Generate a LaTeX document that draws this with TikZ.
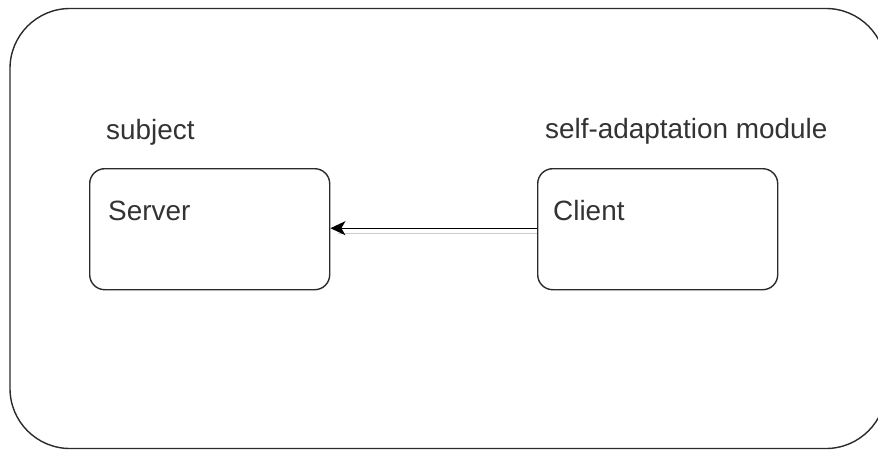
\documentclass[tikz,border=0pt]{standalone}
\usepackage{fontspec}
\setmainfont{Liberation Sans}
\usetikzlibrary{arrows.meta}
\definecolor{ink}{HTML}{2B2B2B}
\definecolor{txt}{HTML}{333333}
\begin{document}
\begin{tikzpicture}[x=1pt,y=-1pt,
  frame/.style={draw=ink,line width=1.4pt,rounded corners=60pt},
  unit/.style={draw=ink,line width=1.4pt,rounded corners=15pt,minimum width=240pt,minimum height=121pt,inner sep=0pt,anchor=north west},
  lbl/.style={text=txt,font=\fontsize{27.9}{33}\selectfont,inner sep=0pt,anchor=base west},
  link/.style={draw=black,line width=1.4pt,-{Stealth[length=15pt,width=14pt,inset=4pt]}},
  linkshade/.style={draw=black!20,line width=1.4pt}]
\useasboundingbox (0,0) rectangle (878,450);
\begin{scope}
\clip (0,0) rectangle (878,450);
\draw[frame] (10,8.5) rectangle (886,448.5);
\end{scope}
\node[unit] (server) at (89,168) {};
\node[unit] (client) at (537,168) {};
\node[lbl] (subj) at (106,139) {subject};
\node[lbl] (mod) at (545,138) {self-adaptation module};
\node[lbl] (srvtxt) at (108,220) {Server};
\node[lbl] (clitxt) at (553,220) {Client};
\draw[linkshade] ([shift={(8pt,-4pt)}]server.east) -- ([yshift=-4pt]client.west);
\draw[link] ([yshift=1pt]client.west) -- ([yshift=1pt]server.east);
\end{tikzpicture}
\end{document}
